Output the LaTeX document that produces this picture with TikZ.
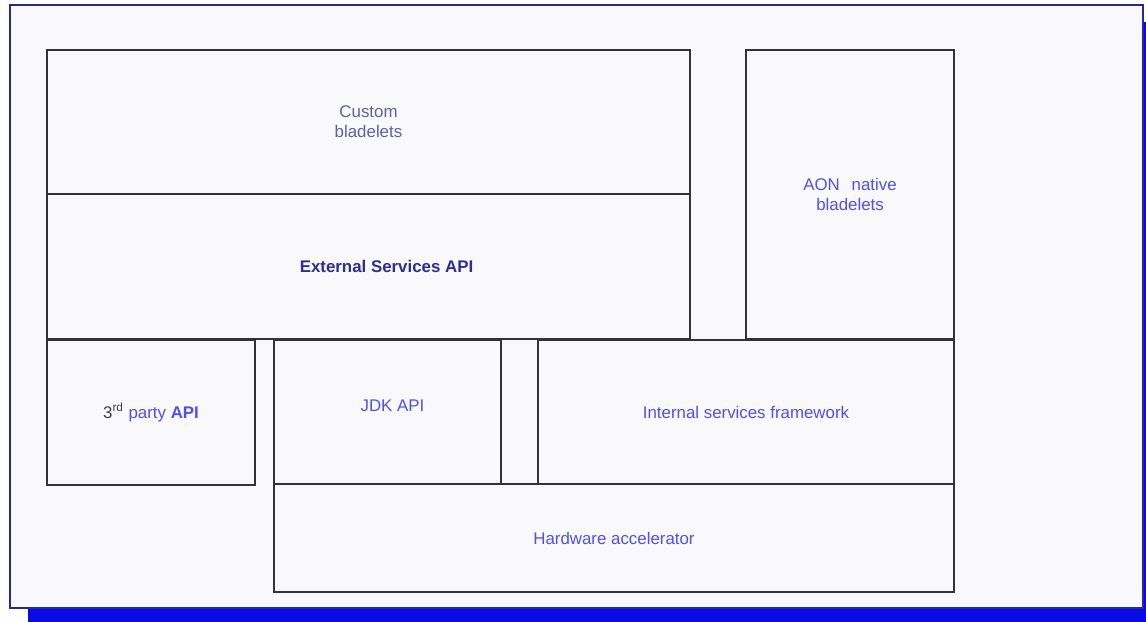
\documentclass[tikz,border=0pt]{standalone}
\usepackage{fontspec}
\setmainfont{Liberation Sans}
\usetikzlibrary{positioning}

\definecolor{pagebg}{RGB}{249,248,251}
\definecolor{shadowblue}{RGB}{10,10,230}
\definecolor{framecol}{RGB}{40,40,150}
\definecolor{lblue}{RGB}{80,80,240}
\definecolor{greyblue}{RGB}{95,95,165}
\definecolor{deepblue}{RGB}{45,45,150}

\begin{document}
\begin{tikzpicture}[
        x=0.02cm, y=-0.02cm,
        layer/.style={rectangle, draw=black!80, line width=0.8pt, inner sep=0pt, outer sep=0pt, align=center, font=\fontsize{9.6}{11.5}\selectfont, text=lblue},
        shadow/.style={fill=shadowblue, draw=none},
        frame/.style={fill=pagebg, draw=framecol, line width=0.6pt}
    ]
    \useasboundingbox (0,0) rectangle (1146,622);

    % Page with its shadow
    \fill[shadow] (28,22) rectangle (1146,622);
    \path[frame] (10,5) rectangle (1143,608);

    % Top row - bladelets and API
    \node[layer, minimum width=12.86cm, minimum height=2.88cm, text=greyblue] (custom) at (368.5,122) {Custom\\bladelets};
    \node[layer, minimum width=12.86cm, minimum height=2.9cm, text=deepblue, font=\fontsize{9.6}{11.5}\selectfont\bfseries] (extapi) at (368.5,266.5) {\hspace{0.72cm}External Services API};
    \node[layer, minimum width=4.16cm, minimum height=5.78cm] (aon) at (850,194.5) {AON\hspace{0.7em}native\\bladelets};

    % Middle row - APIs and framework
    \node[layer, minimum width=4.16cm, minimum height=2.9cm] (thirdapi) at (151,412.5) {\textcolor{black!75}{3\textsuperscript{rd}} party \textbf{API}};
    \node[layer, minimum width=4.54cm, minimum height=2.88cm] (jdkapi) at (387.5,412) {\raisebox{1.5ex}{\hspace{0.2cm}JDK API}};
    \node[layer, minimum width=8.32cm, minimum height=2.88cm] (intfw) at (746,412) {Internal services framework};

    % Bottom - hardware
    \node[layer, minimum width=13.6cm, minimum height=2.16cm] (hwaccel) at (614,538) {Hardware accelerator};

\end{tikzpicture}
\end{document}
